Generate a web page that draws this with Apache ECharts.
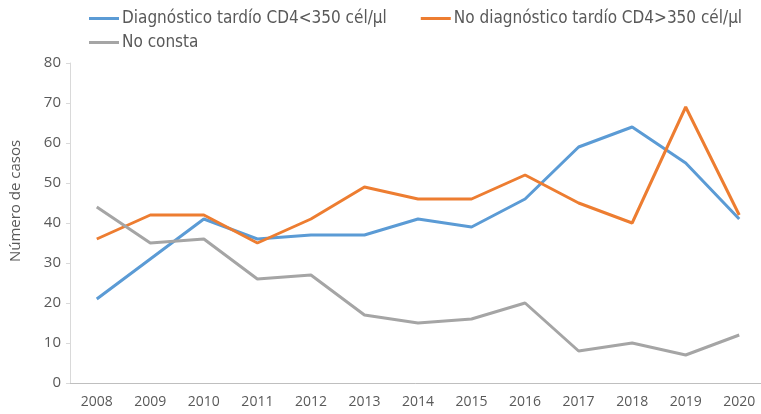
<!DOCTYPE html>
<html>
<head>
<meta charset="utf-8">
<script src="https://cdn.jsdelivr.net/npm/echarts@6/dist/echarts.min.js"></script>
<style>
	html, body { margin: 0; padding: 0; background: #fff; }
	#chart { width: 761px; height: 414px; }
</style>
</head>
<body>
<div id="chart"></div>
<script>
var years = ['2008', '2009', '2010', '2011', '2012', '2013', '2014', '2015', '2016', '2017', '2018', '2019', '2020'];
var tardio = [21, 31, 41, 36, 37, 37, 41, 39, 46, 59, 64, 55, 41];
var noTardio = [36, 42, 42, 35, 41, 49, 46, 46, 52, 45, 40, 69, 42];
var noConsta = [44, 35, 36, 26, 27, 17, 15, 16, 20, 8, 10, 7, 12];

var names = ['Diagnóstico tardío CD4<350 cél/µl', 'No diagnóstico tardío CD4>350 cél/µl', 'No consta'];
var colors = ['#5B9BD5', '#ED7D31', '#A5A5A5'];

var font = 'Open Sans';
var legendFont = '"DejaVu Sans Condensed", "DejaVu Sans", sans-serif';
var textColor = '#595959';

var chart = echarts.init(document.getElementById('chart'), null, { renderer: 'canvas' });

function lineSeries(name, data, color) {
	return {
		name: name,
		type: 'line',
		data: data,
		symbol: 'none',
		smooth: false,
		lineStyle: { color: color, width: 3 },
		itemStyle: { color: color },
		emphasis: { disabled: true }
	};
}

// legend is split in two rows like the original layout
var legendBase = {
	icon: 'rect',
	itemWidth: 30,
	itemHeight: 3,
	itemGap: 34,
	textStyle: { fontFamily: legendFont, fontSize: 17, color: textColor, padding: [0, 0, 0, -2] }
};

chart.setOption({
	animation: false,
	color: colors,
	legend: [
		Object.assign({}, legendBase, { data: [names[0], names[1]], left: 84, top: 5 }),
		Object.assign({}, legendBase, { data: [names[2]], left: 84, top: 29 })
	],
	grid: { left: 70, top: 63, width: 696, height: 320, outerBoundsMode: 'none' },
	xAxis: {
		type: 'category',
		data: years,
		boundaryGap: true,
		axisLine: { lineStyle: { color: '#BFBFBF', width: 1 } },
		axisTick: { show: false },
		axisLabel: { fontFamily: font, fontSize: 14, color: textColor, margin: 12 }
	},
	yAxis: {
		type: 'value',
		min: 0,
		max: 80,
		interval: 10,
		name: 'Número de casos',
		nameLocation: 'middle',
		nameGap: 47,
		nameTextStyle: { fontFamily: font, fontSize: 15, color: textColor, padding: [0, 0, 0, 44] },
		axisLine: { show: true, lineStyle: { color: '#D9D9D9', width: 1 } },
		axisTick: { show: true, length: 4, lineStyle: { color: '#D9D9D9' } },
		splitLine: { show: false },
		axisLabel: { fontFamily: font, fontSize: 15, color: textColor, margin: 9 }
	},
	series: [
		lineSeries(names[0], tardio, colors[0]),
		lineSeries(names[1], noTardio, colors[1]),
		lineSeries(names[2], noConsta, colors[2])
	]
});
</script>
</body>
</html>
